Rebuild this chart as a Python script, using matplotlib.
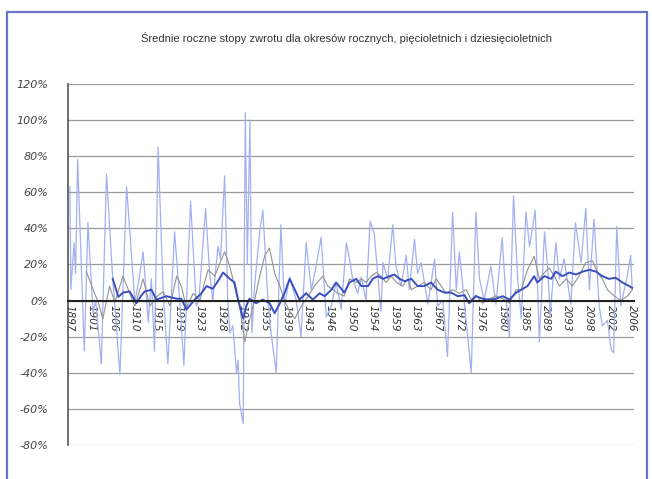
import numpy as np
import matplotlib
matplotlib.use("Agg")
from matplotlib import pyplot as plt
from matplotlib.patches import Rectangle
from matplotlib.ticker import FuncFormatter

TITLE = "Średnie roczne stopy zwrotu dla okresów rocznych, pięcioletnich i dziesięcioletnich"

# etykiety osi X (tak jak na oryginale, razem z literowkami 2089/2093/2098)
x_labels = ["1897", "1901", "1906", "1910", "1915", "1919", "1923", "1928", "1932",
            "1935", "1939", "1943", "1946", "1950", "1954", "1959", "1963", "1967",
            "1972", "1976", "1980", "1985", "2089", "2093", "2098", "2002", "2006"]

# stopy roczne (%)
roczne_lata = [1897.0, 1897.2, 1897.8, 1898.1, 1898.5, 1899.8, 1900.5, 1901.5, 1902.0, 1903.1,
               1904.1, 1905.2, 1906.7, 1908.0, 1909.6, 1910.4, 1911.2, 1912.2, 1912.8, 1913.4,
               1914.1, 1915.1, 1916.0, 1917.3, 1918.3, 1919.1, 1920.4, 1921.5, 1922.0, 1923.3,
               1924.1, 1924.7, 1925.7, 1926.2, 1927.0, 1927.6, 1928.0, 1928.6, 1929.3, 1929.6,
               1929.9, 1930.6, 1931.0, 1931.4, 1931.9, 1932.3, 1932.8, 1933.8, 1934.4, 1935.4,
               1936.0, 1937.0, 1937.9, 1938.6, 1939.6, 1940.9, 1941.8, 1942.8, 1943.8, 1944.6,
               1945.7, 1946.7, 1947.7, 1948.6, 1949.6, 1950.6, 1951.2, 1951.8, 1952.8, 1953.5,
               1954.4, 1955.2, 1956.0, 1957.3, 1957.7, 1958.6, 1959.6, 1960.2, 1961.2, 1962.2,
               1962.8, 1963.8, 1964.4, 1965.1, 1966.4, 1967.7, 1968.3, 1969.3, 1970.2, 1971.2,
               1971.9, 1972.5, 1973.5, 1974.8, 1975.7, 1976.4, 1977.3, 1978.6, 1979.6, 1980.8,
               1981.5, 1982.2, 1983.0, 1983.8, 1984.5, 1985.4, 1986.1, 1987.2, 1988.0, 1989.0,
               1989.6, 1990.1, 1991.2, 1991.9, 1992.8, 1994.1, 1995.0, 1996.1, 1997.0, 1997.7,
               1998.6, 1999.6, 2000.2, 2001.2, 2001.9, 2002.4, 2003.0, 2003.8, 2005.0, 2005.7,
               2006.0]
roczne = [63, 6, 32, 15, 78, -28, 43, -7, 0, -35,
          70, 17, -41, 63, -1, 12, 27, -12, 12, -28,
          85, 4, -35, 38, 0, -36, 55, -3, 0, 51,
          15, 0, 30, 23, 69, 0, -18, -14, -40, -33,
          -57, -68, 104, 20, 100, -18, 8, 38, 50, 0,
          -18, -40, 42, -3, 13, 0, -20, 32, 6, 17,
          35, -9, -3, 10, -5, 32, 23, 12, 4, 13,
          0, 44, 37, -6, 21, 12, 42, 19, 8, 25,
          6, 34, 15, 21, -2, 23, -3, 0, -31, 49,
          6, 27, -2, -40, 49, 12, 0, 19, -2, 35,
          2, -20, 58, 12, -10, 49, 30, 50, -23, 38,
          19, -9, 32, 12, 23, -2, 43, 21, 51, 6,
          45, -3, -14, -11, -27, -29, 41, -3, 13, 25,
          6]

# srednie 5-letnie (%)
piec_lata = [1900.2, 1901.5, 1902.5, 1903.4, 1904.7, 1905.7, 1907.3, 1908.6, 1909.6, 1911.2,
             1912.5, 1913.8, 1915.1, 1916.4, 1917.7, 1918.6, 1919.6, 1920.9, 1922.2, 1923.1,
             1923.8, 1925.1, 1926.4, 1927.0, 1928.0, 1928.9, 1929.9, 1930.9, 1931.8, 1932.8,
             1933.8, 1934.8, 1935.7, 1936.7, 1937.7, 1938.6, 1939.6, 1940.6, 1941.9, 1943.1,
             1944.4, 1946.0, 1947.0, 1948.0, 1948.9, 1950.2, 1951.2, 1952.5, 1953.5, 1954.4,
             1955.4, 1956.4, 1957.3, 1958.3, 1959.3, 1960.3, 1961.5, 1962.5, 1963.2, 1964.4,
             1965.7, 1967.0, 1968.0, 1969.0, 1969.9, 1971.2, 1972.5, 1973.8, 1974.8, 1975.7,
             1977.0, 1978.3, 1979.6, 1980.9, 1982.2, 1983.5, 1984.5, 1985.7, 1987.0, 1988.0,
             1989.0, 1989.9, 1990.9, 1991.9, 1993.2, 1994.4, 1995.7, 1997.0, 1998.3, 1999.3,
             2000.2, 2001.2, 2002.5, 2003.8, 2005.1, 2006.0]
piecioletnie = [16, 6, -1, -10, 8, -1, 13.5, 4, -3, 12,
                -3, 2, 5, -3, 13.5, 8, -4, 4, 0, 10,
                17, 13.5, 23, 27, 19, 8, -3, -23, -11, 0,
                13.5, 25, 29, 15, 8, 0, -6, -10, -3, 2,
                8, 13.5, 8, 6, 4, 2.5, 12, 10, 12, 10,
                13.5, 15.5, 13.5, 10, 13.5, 10, 8, 12, 6, 8,
                10, 6, 12, 8, 4, 6, 4, 6, 0.5, 3,
                -1.5, 1, 2.5, 1, -1.5, 6, 6, 17, 24.5, 12,
                15.5, 18, 13.5, 8, 12, 8, 13.5, 21, 22, 15.5,
                12, 6, 2.5, 0, 2.5, 6]

# srednie 10-letnie (%)
dziesiec_lata = [1905.3, 1906.4, 1907.3, 1908.6, 1909.9, 1910.9, 1911.5, 1912.8, 1913.8, 1915.7,
                 1917.7, 1918.6, 1919.6, 1921.2, 1922.5, 1923.5, 1924.7, 1925.7, 1926.7, 1928.0,
                 1928.9, 1929.6, 1930.6, 1931.2, 1931.8, 1933.1, 1934.4, 1935.7, 1936.7, 1937.7,
                 1938.6, 1939.6, 1940.6, 1941.5, 1942.8, 1944.1, 1945.4, 1946.4, 1947.7, 1948.6,
                 1950.2, 1951.2, 1952.5, 1953.5, 1954.8, 1955.7, 1956.7, 1957.7, 1959.0, 1959.9,
                 1960.9, 1961.9, 1963.2, 1964.4, 1965.7, 1967.0, 1968.3, 1969.6, 1970.9, 1972.2,
                 1973.5, 1974.4, 1975.7, 1977.0, 1978.3, 1979.6, 1980.9, 1982.2, 1983.5, 1984.5,
                 1985.7, 1987.0, 1987.6, 1989.0, 1990.3, 1991.2, 1992.5, 1993.8, 1995.1, 1996.4,
                 1997.7, 1999.0, 2000.2, 2001.5, 2002.8, 2004.1, 2005.4, 2006.0]
dziesiecioletnie = [12, 2, 4.4, 5, -1.5, 3, 5, 6, 0.5, 2.4,
                    1, 1, -5, 0.5, 4, 8, 6.5, 10.7, 15.5, 12,
                    10, 0.5, -10, -3, 1, -1.5, 0.5, -1.5, -7, -1.5,
                    4, 12, 6, 0.5, 4, 0.5, 4, 2.4, 6, 10,
                    4.4, 10, 12, 8, 8, 12, 13.5, 12, 13.5, 14.4,
                    12, 10.7, 12, 8, 8, 10, 6, 4.4, 4.4, 2.4,
                    3, -1.5, 2.4, 1, 0.5, 1, 2.4, 0.5, 4.4, 6,
                    8, 13.5, 10, 13.5, 12, 16, 13.5, 15.5, 14.4, 16,
                    17, 16, 13.5, 12, 12.6, 10, 8, 7]

fig = plt.figure(figsize=(6.52, 4.79), dpi=100)
ax = fig.add_axes([0.104, 0.071, 0.868, 0.754])

# ramka wokol calego wykresu
fig.patches.append(Rectangle((0.011, -0.05), 0.982, 1.025, transform=fig.transFigure,
                             fill=False, edgecolor="#6675c9", linewidth=1.6))

# os X przecina sie z osia Y w 0% (jak w Excelu) - ustawic przed tickami,
# bo set_position resetuje etykiety
ax.spines["bottom"].set_position(("data", 0))
ax.spines["bottom"].set_color("#222222")
ax.spines["bottom"].set_linewidth(1.5)
ax.spines["bottom"].set_zorder(5)
ax.spines["left"].set_color("#555555")
ax.spines["left"].set_linewidth(1.2)
ax.spines["top"].set_visible(False)
ax.spines["right"].set_visible(False)

ax.plot(roczne_lata, roczne, color="#a3b0f0", linewidth=0.9, zorder=2)
ax.plot(piec_lata, piecioletnie, color="#939393", linewidth=0.8, zorder=3)
ax.plot(dziesiec_lata, dziesiecioletnie, color="#3a4fbf", linewidth=1.4, zorder=4)

ax.set_xlim(1896.6, 2006.3)
ax.set_ylim(-80, 120)
ax.set_yticks(np.arange(-80, 121, 20))
ax.yaxis.set_major_formatter(FuncFormatter(lambda v, p: f"{v:.0f}%"))
ax.grid(axis="y", color="#9a9a9a", linewidth=0.9)
ax.set_axisbelow(True)

ax.set_xticks(np.linspace(1897, 2006, len(x_labels)))
ax.set_xticklabels(x_labels, rotation=270, fontstyle="italic", fontsize=7.5,
                   color="#333333", ha="center", va="top")
ax.tick_params(axis="x", length=0, pad=3)
ax.tick_params(axis="y", length=0, pad=14, labelsize=8, labelcolor="#444444")
for lab in ax.get_yticklabels():
    lab.set_fontstyle("italic")

fig.text(0.532, 0.92, TITLE, ha="center", va="center", fontsize=8,
         family="Liberation Sans", color="#333333")

fig.savefig("out.png", dpi=100)
